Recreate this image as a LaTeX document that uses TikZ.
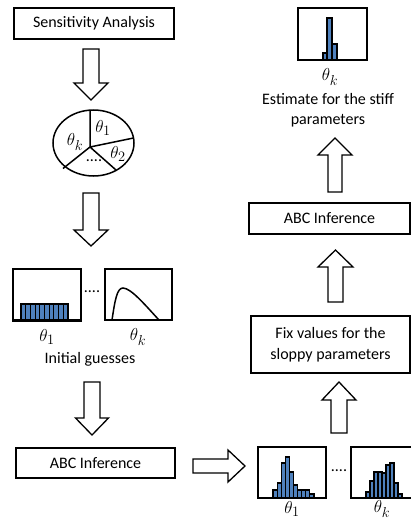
\documentclass[tikz,border=0pt]{standalone}
\usepackage{fontspec}
\setmainfont{Carlito}
\usetikzlibrary{calc,shapes.geometric}
\definecolor{barblue}{RGB}{79,129,189}
\newcommand\blockarrow[5]{%
  \coordinate (bah) at ($(#2)!#5!(#1)$);
  \draw[barrow] ($(#1)!#3!90:(#2)$) -- ($(bah)!#3!90:(#2)$) -- ($(bah)!#4!90:(#2)$) -- (#2)
    -- ($(bah)!#4!-90:(#2)$) -- ($(bah)!#3!-90:(#2)$) -- ($(#1)!#3!-90:(#2)$) -- cycle;}
\begin{document}
\begin{tikzpicture}[x=1pt,y=-1pt,
  font=\fontsize{16}{20.5}\selectfont,
  box/.style={draw, line width=1.5pt, rectangle, inner sep=0pt, align=center},
  histbox/.style={draw, line width=1.5pt, rectangle, inner sep=0pt},
  barrow/.style={draw, fill=white, line width=1.3pt, line join=miter},
  bar/.style={draw=black, fill=barblue, line width=1.1pt},
  lbl/.style={inner sep=0pt, align=center},
  mlbl/.style={inner sep=0pt, font=\fontsize{19}{20}\selectfont}]
\useasboundingbox (0,0) rectangle (411,519);
\fill[white] (0,0) rectangle (411,519);

% ---- left column ----
\node[box, minimum width=160pt, minimum height=31pt] (sa) at (94,23.5) {Sensitivity Analysis};

% pie
\node[draw, line width=1.5pt, ellipse, minimum width=81pt, minimum height=66pt, inner sep=0pt] (pie) at (93.5,143) {};
\coordinate (pc) at (90,147);
\coordinate (pt) at (90,110);
\coordinate (pr) at (133.5,138);
\coordinate (pl) at (63,168.5);
\coordinate (pb) at (116,170);
\draw[line width=1.5pt] (pc) -- (pt) (pc) -- (pr) (pc) -- (pl) (pc) -- (pb);
\node[mlbl] (pth1) at (103,128) {$\theta_1$};
\node[mlbl] (pthk) at (75,142) {$\theta_k$};
\node[mlbl] (pth2) at (118,154) {$\theta_2$};
\node[lbl] (pdots) at (94,161) {....};

% initial guesses
\node[histbox, minimum width=68pt, minimum height=51pt] (h1) at (47,294.5) {};
\foreach \i in {0,...,9}{
  \draw[bar] ({21+4.7*\i},320) rectangle ({21+4.7*(\i+1)},304);
}
\draw[line width=1.5pt] (h1.south west) -- (h1.south east);
\node[histbox, minimum width=67pt, minimum height=51pt] (h2) at (138.5,294.5) {};
\draw[line width=1.5pt] (112,320) .. controls (115,300) and (117,288) .. (123,288)
  .. controls (131,288) and (146,306) .. (159,320);
\node[lbl] (hdots) at (92,292) {....};
\node[mlbl] (hth1) at (47,337) {$\theta_1$};
\node[mlbl] (hthk) at (138,337) {$\theta_k$};
\node[lbl] (init) at (90,359) {Initial guesses};

\node[box, minimum width=159pt, minimum height=30pt] (abc1) at (95.5,463) {ABC Inference};

% ---- bottom right histograms ----
\node[histbox, minimum width=68pt, minimum height=51pt] (b1) at (292,472.5) {};
\foreach \t [count=\i from 0] in {490,483,463,457,472,485,490,490,490,494}{
  \draw[bar] ({273+4.1*\i},498) rectangle ({273+4.1*(\i+1)},\t);
}
\node[histbox, minimum width=64pt, minimum height=51pt] (b2) at (383,472.5) {};
\foreach \t [count=\i from 0] in {492,481,472,472,473,465,463,483,494}{
  \draw[bar] ({366+4*\i},498) rectangle ({366+4*(\i+1)},\t);
}
\node[lbl] (bdots) at (339,471) {....};
\node[mlbl] (bth1) at (292,509) {$\theta_1$};
\node[mlbl] (bthk) at (382,509) {$\theta_k$};

% ---- right column ----
\node[box, minimum width=159pt, minimum height=57pt] (fix) at (330.5,344.5) {Fix values for the\\sloppy parameters};
\node[box, minimum width=161pt, minimum height=31pt] (abc2) at (329.5,218.5) {ABC Inference};
\node[lbl] (est) at (328,110) {Estimate for the stiff\\parameters};
\node[mlbl] (tthk) at (330,77) {$\theta_k$};
\node[histbox, minimum width=69pt, minimum height=52pt] (top) at (332.5,34) {};
\draw[bar] (323,60) rectangle (327,53);
\draw[bar] (327,60) rectangle (332,18);
\draw[bar] (332,60) rectangle (337,44);

% ---- block arrows ----
\coordinate (a1s) at (91,49);   \coordinate (a1e) at (91,100);
\coordinate (a2s) at (91,193);  \coordinate (a2e) at (91,246);
\coordinate (a3s) at (92,382);  \coordinate (a3e) at (92,435);
\coordinate (ars) at (193,466); \coordinate (are) at (245,466);
\coordinate (u1s) at (339,433); \coordinate (u1e) at (339,382);
\coordinate (u2s) at (335.5,302); \coordinate (u2e) at (335.5,250);
\coordinate (u3s) at (335,192); \coordinate (u3e) at (335,138);
\blockarrow{a1s}{a1e}{8pt}{17pt}{17pt}
\blockarrow{a2s}{a2e}{8pt}{17pt}{16pt}
\blockarrow{a3s}{a3e}{8pt}{16.5pt}{17pt}
\blockarrow{ars}{are}{7pt}{16pt}{17pt}
\blockarrow{u1s}{u1e}{8pt}{17pt}{18pt}
\blockarrow{u2s}{u2e}{7.5pt}{17.5pt}{17pt}
\blockarrow{u3s}{u3e}{7pt}{17pt}{17pt}
\end{tikzpicture}
\end{document}
